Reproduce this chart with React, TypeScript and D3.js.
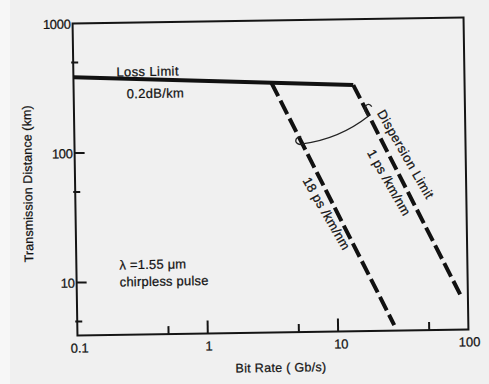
import React from "react";
import * as d3 from "d3";

// axis ticks
const xLabels = [0.1, 1, 10, 100];
const xMajor = [1, 10];
const xMinor = [0.5, 5, 50];
const yLabels = [10, 100, 1000];
const yMajor = [10, 100];
const yMinor = [5, 50, 500];

// loss limit (0.2 dB/km)
const lossRate = [0.1, 14];
const lossDist = [386, 310];
// dispersion limit, 1 ps/km/nm
const disp1Rate = [14, 89];
const disp1Dist = [310, 7];
// dispersion limit, 18 ps/km/nm
const disp18Rate = [3.3, 27];
const disp18Dist = [330, 4.3];
// bracket joining the two dispersion lines (bit rate on 18, on 1)
const bracketRate = [5.6, 18.3];

const FONT = "'Liberation Sans', Arial, Helvetica, sans-serif";

function distOn(rates: number[], dists: number[], r: number) {
  const t = (Math.log10(r) - Math.log10(rates[0])) / (Math.log10(rates[1]) - Math.log10(rates[0]));
  return Math.pow(10, Math.log10(dists[0]) + t * (Math.log10(dists[1]) - Math.log10(dists[0])));
}

export default function App() {
  const W = 489, H = 384;
  const x = d3.scaleLog().domain([0.1, 100]).range([75, 466]);
  const y = d3.scaleLog().domain([3.9, 1000]).range([332.5, 20.5]);
  const [x0, x1] = x.range();
  const [y0, y1] = y.range();

  const path = (rates: number[], dists: number[]) =>
    d3.line<number>().x(i => x(rates[i])).y(i => y(dists[i]))([0, 1]) as string;

  // bracket
  const p0 = [x(bracketRate[0]), y(distOn(disp18Rate, disp18Dist, bracketRate[0]))];
  const p1 = [x(bracketRate[1]), y(distOn(disp1Rate, disp1Dist, bracketRate[1]))];
  const dx = p1[0] - p0[0], dy = p1[1] - p0[1];
  const len = Math.hypot(dx, dy);
  const cx = (p0[0] + p1[0]) / 2 + (-dy / len) * 10;
  const cy = (p0[1] + p1[1]) / 2 + (dx / len) * 10;
  const bracket = `M${p0[0]},${p0[1]} Q${cx},${cy} ${p1[0]},${p1[1]}`;
  const hookL = `M${p0[0] + 1},${p0[1]} C${p0[0] - 3},${p0[1] + 2} ${p0[0] - 8},${p0[1] - 1} ${p0[0] - 6},${p0[1] - 5} Q${p0[0] - 4},${p0[1] - 8} ${p0[0] - 1},${p0[1] - 7}`;
  const hookR = `M${p1[0]},${p1[1]} Q${p1[0] - 6},${p1[1] - 5} ${p1[0] - 3},${p1[1] - 10} Q${p1[0]},${p1[1] - 13} ${p1[0] + 3},${p1[1] - 9}`;

  const txt = { fontFamily: FONT, fill: "#141414", stroke: "#141414", strokeWidth: 0.25 } as const;

  return (
    <svg width={W} height={H} style={{ position: "absolute", left: 0, top: 0, background: "#f0f0f0" }}>
      <rect x={0} y={0} width={10} height={H} fill="#f7f7f7" />
      <g transform="rotate(-0.9 270.5 176.5)">
        {/* frame */}
        <rect x={x0} y={y1} width={x1 - x0} height={y0 - y1} fill="none" stroke="#151515" strokeWidth={2} />

        {/* x ticks */}
        {xMajor.map(v => (
          <line key={"xm" + v} x1={x(v)} x2={x(v)} y1={y0} y2={y0 - 13} stroke="#151515" strokeWidth={2} />
        ))}
        {xMinor.map(v => (
          <line key={"xn" + v} x1={x(v)} x2={x(v)} y1={y0} y2={y0 - 8} stroke="#151515" strokeWidth={2} />
        ))}
        {xLabels.map(v => (
          <text key={"xl" + v} x={x(v) + (v === 10 ? 3 : v === 0.1 ? 2 : 1)} y={y0 + 17} textAnchor="middle" fontSize={13} {...txt}>
            {v}
          </text>
        ))}

        {/* y ticks */}
        {yMajor.map(v => (
          <line key={"ym" + v} x1={x0} x2={x0 + 10} y1={y(v)} y2={y(v)} stroke="#151515" strokeWidth={2} />
        ))}
        {yMinor.map(v => (
          <line key={"yn" + v} x1={x0 - 2} x2={x0 + 5} y1={y(v)} y2={y(v)} stroke="#151515" strokeWidth={2} />
        ))}
        {yLabels.map(v => (
          <text key={"yl" + v} x={x0 - 2} y={y(v) + 5} textAnchor="end" fontSize={13} letterSpacing={-0.3} {...txt}>
            {v}
          </text>
        ))}

        {/* axis titles */}
        <text x={278} y={372} textAnchor="middle" fontSize={12.5} letterSpacing={0.3} {...txt}>
          Bit Rate ( Gb/s)
        </text>
        <text transform="translate(32,180) rotate(-90)" textAnchor="middle" fontSize={12.5} letterSpacing={0.1} {...txt}>
          Transmission Distance (km)
        </text>

        {/* limits */}
        <path d={path(lossRate, lossDist)} fill="none" stroke="#111" strokeWidth={4} />
        <path d={path(disp1Rate, disp1Dist)} fill="none" stroke="#111" strokeWidth={4} strokeDasharray="15,5" />
        <path d={path(disp18Rate, disp18Dist)} fill="none" stroke="#111" strokeWidth={4} strokeDasharray="15,5" />

        <path d={bracket} fill="none" stroke="#222" strokeWidth={1.3} />
        <path d={hookL} fill="none" stroke="#222" strokeWidth={1.3} />
        <path d={hookR} fill="none" stroke="#222" strokeWidth={1.3} />

        {/* annotations */}
        <text x={118} y={74} fontSize={13} letterSpacing={0.4} {...txt}>Loss Limit</text>
        <text x={128} y={96} fontSize={13} letterSpacing={0.3} {...txt}>0.2dB/km</text>
        <text transform="translate(405,157) rotate(61)" textAnchor="middle" dominantBaseline="middle" fontSize={13} letterSpacing={0.5} {...txt}>
          Dispersion Limit
        </text>
        <text transform="translate(388,185) rotate(61)" textAnchor="middle" dominantBaseline="middle" fontSize={13} letterSpacing={0.3} {...txt}>
          1 ps /km/nm
        </text>
        <text transform="translate(325,215) rotate(61)" textAnchor="middle" dominantBaseline="middle" fontSize={13} letterSpacing={0.3} {...txt}>
          18 ps /km/nm
        </text>
        <text x={118} y={267} fontSize={13} letterSpacing={0.2} {...txt}>λ =1.55 μm</text>
        <text x={118} y={284} fontSize={13} letterSpacing={0.2} {...txt}>chirpless pulse</text>
      </g>
    </svg>
  );
}
